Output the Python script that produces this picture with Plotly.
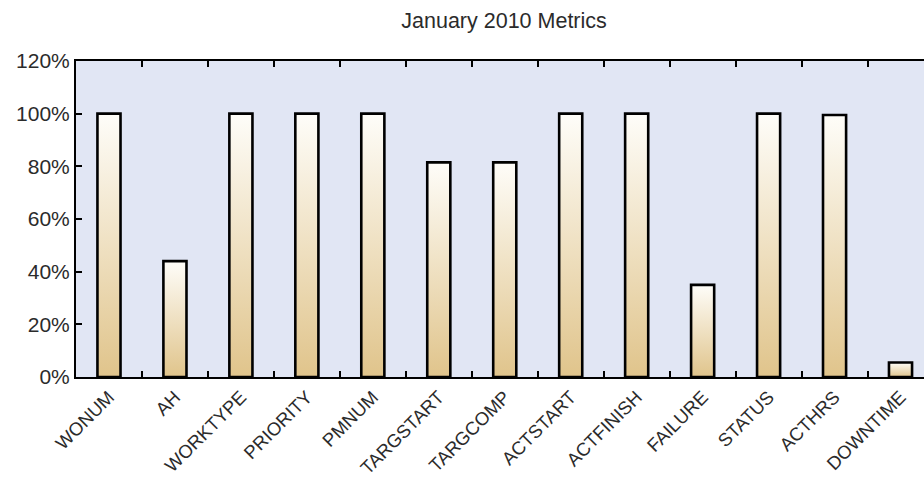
import plotly.graph_objects as go

# Share of work orders with each field populated
categories = ["WONUM", "AH", "WORKTYPE", "PRIORITY", "PMNUM", "TARGSTART",
              "TARGCOMP", "ACTSTART", "ACTFINISH", "FAILURE", "STATUS",
              "ACTHRS", "DOWNTIME"]
values = [100, 44, 100, 100, 100, 81.5, 81.5, 100, 100, 35, 100, 99.5, 5.5]
y_ticks = [0, 20, 40, 60, 80, 100, 120]

BAR_W = 0.35
X_RANGE = [-0.5, 12.356]
TAN = "#e0c48b"
CREAM = "#fefdf9"
FONT = "Liberation Sans, Arial, sans-serif"
TEXT = "#2b2b2b"

fig = go.Figure()

# gradient body of each bar (light at the top, tan at the base)
for i, v in enumerate(values):
    x0, x1 = i - BAR_W / 2, i + BAR_W / 2
    fig.add_trace(go.Scatter(
        x=[x0, x1, x1, x0, x0], y=[0, 0, v, v, 0],
        mode="lines", fill="toself",
        fillgradient=dict(type="vertical",
                          colorscale=[[0, TAN], [1, CREAM]]),
        line=dict(width=0), hoverinfo="skip", showlegend=False,
        xaxis="x", yaxis="y",
    ))

# bar outlines on the category axis
fig.add_trace(go.Bar(
    x=categories, y=values, width=BAR_W,
    marker=dict(color="rgba(0,0,0,0)", line=dict(color="black", width=2.6)),
    showlegend=False, xaxis="x2", yaxis="y",
))

fig.update_layout(
    width=924, height=479,
    margin=dict(l=75.5, r=0, t=61, b=102),
    paper_bgcolor="white",
    plot_bgcolor="#e1e6f4",
    font=dict(family=FONT, color=TEXT),
    title=dict(text="January 2010 Metrics", xref="container", yref="container",
               x=0.5455, y=0.958, xanchor="center", yanchor="middle",
               font=dict(size=21.5, family=FONT, color=TEXT)),
    xaxis=dict(range=X_RANGE, visible=False, showgrid=False, zeroline=False),
    xaxis2=dict(
        type="category", overlaying="x", side="bottom",
        range=X_RANGE, tickson="boundaries", automargin=False,
        ticks="inside", ticklen=6, tickwidth=1.5, tickcolor="black",
        showline=True, linecolor="black", linewidth=2, mirror="ticks",
        showgrid=False, tickangle=-45,
        tickfont=dict(size=18.5, family=FONT, color=TEXT),
    ),
    yaxis=dict(
        range=[0, 120], tickmode="array", tickvals=y_ticks,
        ticktext=[f"{t}%" for t in y_ticks], automargin=False,
        ticks="inside", ticklen=6, tickwidth=1.5, tickcolor="black",
        showline=True, linecolor="black", linewidth=2, mirror=False,
        showgrid=False, zeroline=False,
        tickfont=dict(size=21, family=FONT, color=TEXT),
    ),
    bargap=0.65,
)

fig.write_html("out.html")
